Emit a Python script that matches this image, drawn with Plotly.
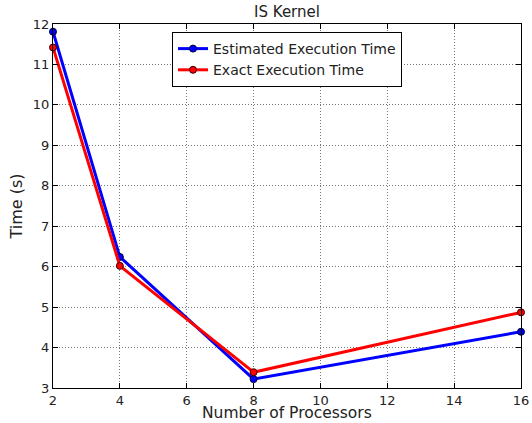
import plotly.graph_objects as go

processors = [2, 4, 8, 16]
estimated = [11.81, 6.24, 3.22, 4.39]
exact = [11.42, 6.02, 3.39, 4.87]
x_ticks = [2, 4, 6, 8, 10, 12, 14, 16]
y_ticks = [3, 4, 5, 6, 7, 8, 9, 10, 11, 12]

fig = go.Figure()
fig.add_trace(go.Scatter(
    x=processors, y=estimated, mode="lines+markers", name="Estimated Execution Time",
    line=dict(color="#0000ff", width=3),
    marker=dict(symbol="circle", size=7, color="#0000ff", line=dict(color="#000033", width=1)),
    cliponaxis=False,
))
fig.add_trace(go.Scatter(
    x=processors, y=exact, mode="lines+markers", name="Exact Execution Time",
    line=dict(color="#ff0000", width=3),
    marker=dict(symbol="circle", size=7, color="#ff0000", line=dict(color="#330000", width=1)),
    cliponaxis=False,
))

axis_common = dict(
    showline=True, linecolor="black", linewidth=1, mirror="ticks",
    ticks="inside", ticklen=5, tickcolor="black", tickwidth=1,
    showgrid=True, gridcolor="#777777", gridwidth=1, griddash="1px,2px",
    zeroline=False, tickfont=dict(size=13, color="#222222"), automargin=False,
)

fig.update_layout(
    width=532, height=423,
    margin=dict(l=53, r=11, t=24, b=35),
    paper_bgcolor="white", plot_bgcolor="white",
    font=dict(family="DejaVu Sans", color="#222222"),
    title=dict(text="IS Kernel", xref="paper", x=0.5, xanchor="center",
               yref="container", y=1 - 12/423, yanchor="middle",
               font=dict(size=15, color="#222222")),
    xaxis=dict(range=[2, 16], tickvals=x_ticks, **axis_common),
    yaxis=dict(range=[3, 12], tickvals=y_ticks,
               title=dict(text="Time (s)", font=dict(size=16), standoff=6),
               **axis_common),
    legend=dict(x=0.5, xanchor="center", y=0.978, yanchor="top",
                bordercolor="black", borderwidth=1, bgcolor="white",
                font=dict(size=14, color="#222222"), tracegroupgap=0),
    showlegend=True,
)
fig.add_annotation(text="Number of Processors", xref="paper", yref="paper",
                   x=0.5, y=0, xanchor="center", yanchor="middle", yshift=-25,
                   showarrow=False, font=dict(size=15.5, color="#222222"))

fig.write_html("out.html", config={"displayModeBar": False},
               post_script="document.body.style.margin='0';")
